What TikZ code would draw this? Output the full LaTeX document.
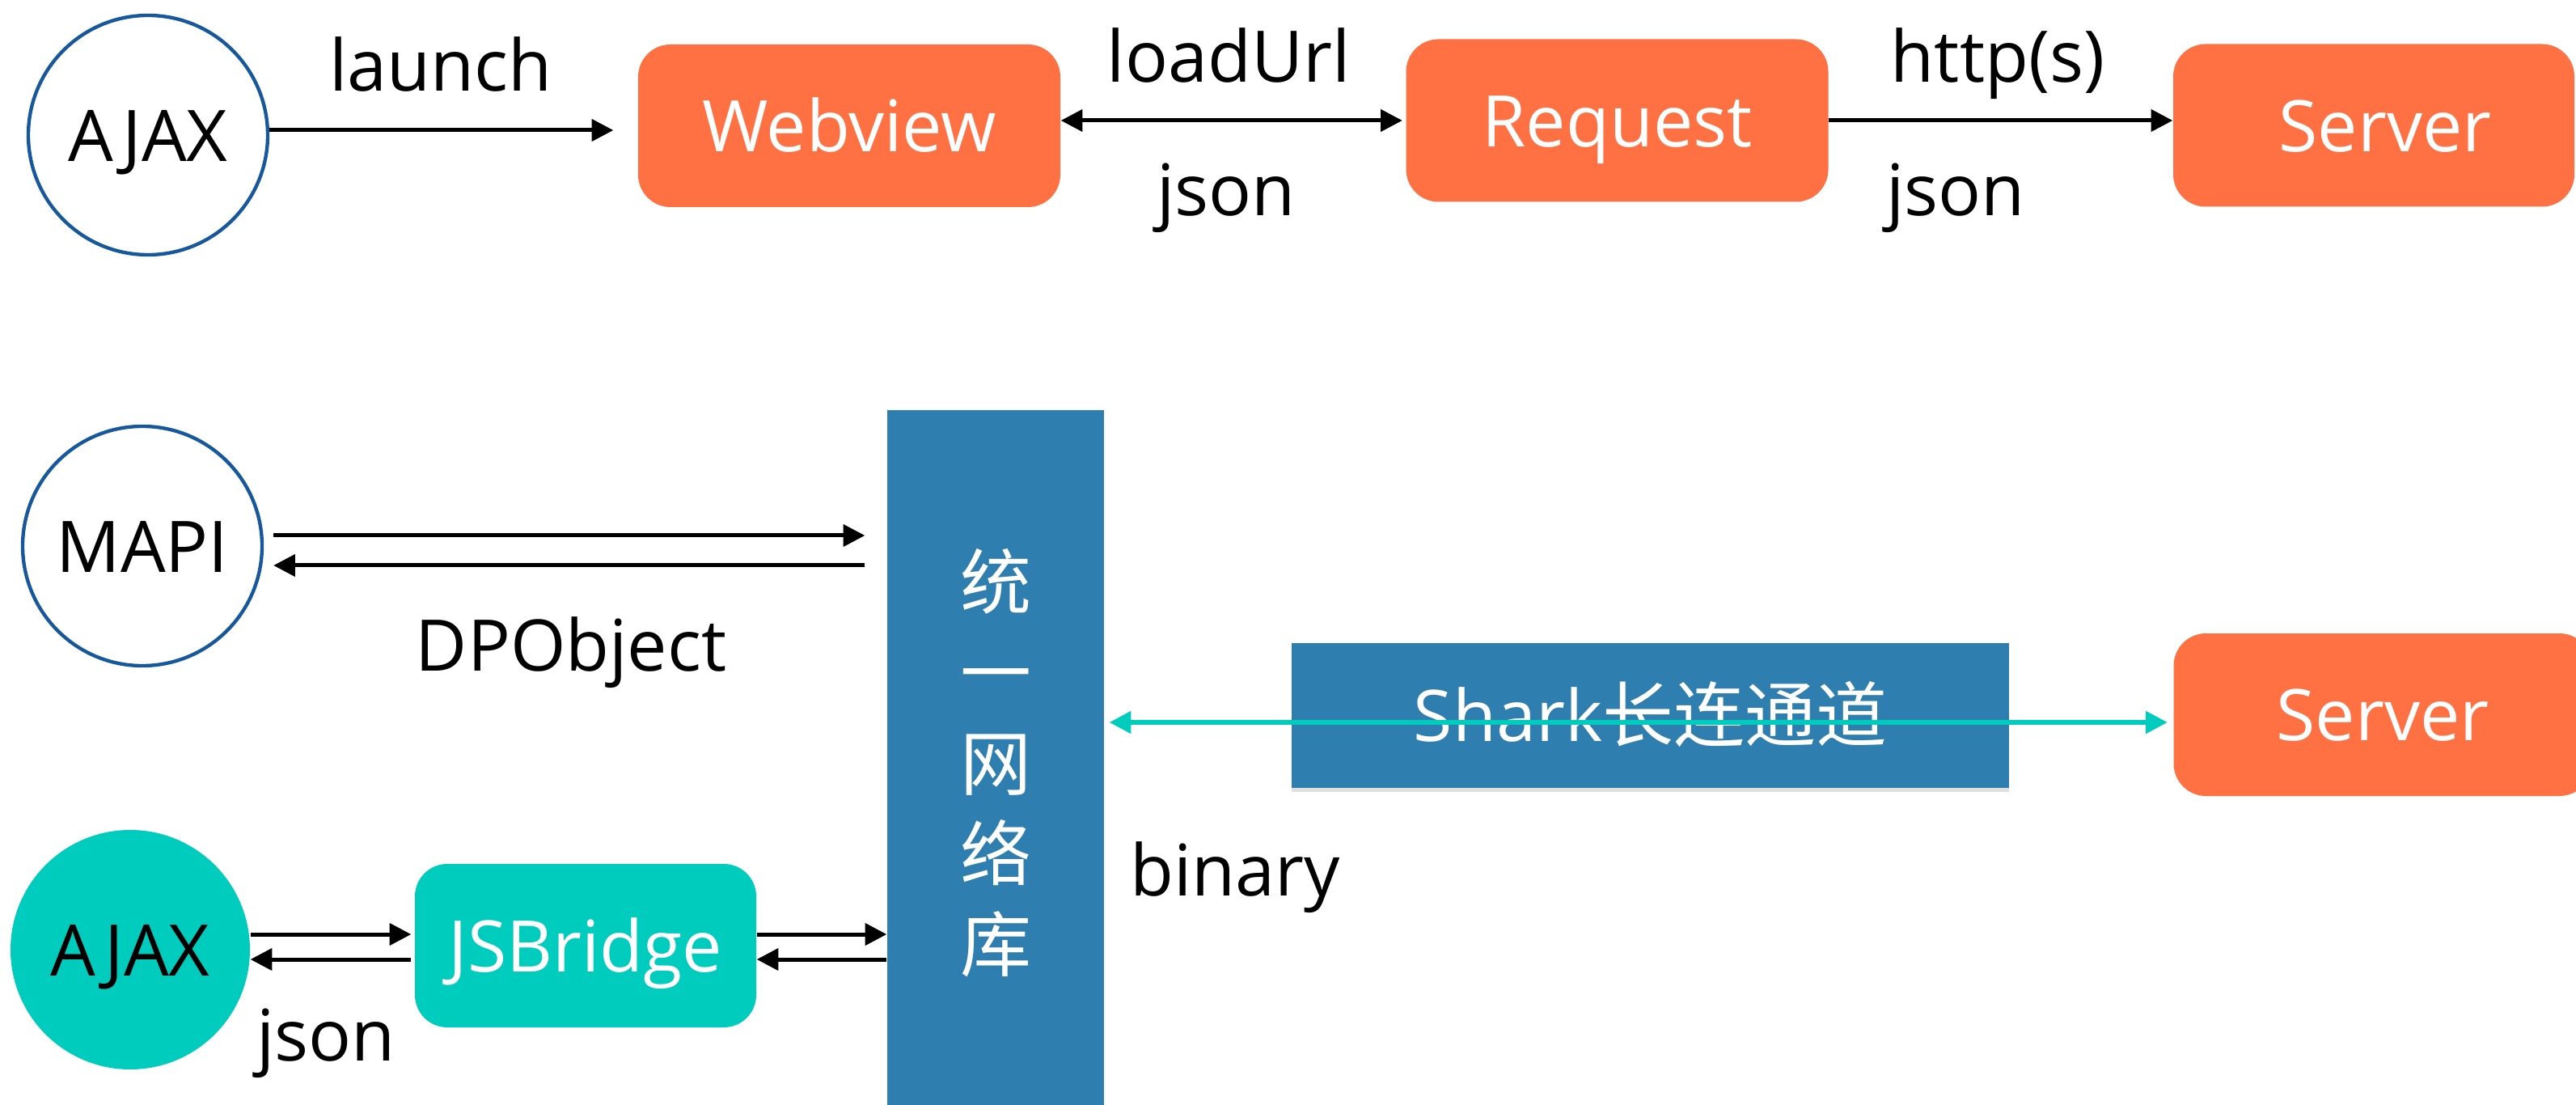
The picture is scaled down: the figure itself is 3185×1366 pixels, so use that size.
\documentclass[tikz,border=0pt]{standalone}
\usepackage{fontspec}
\setmainfont{Open Sans}
\newfontfamily\cjk{Noto Sans CJK SC}
\usetikzlibrary{arrows.meta,shadows,calc}
\definecolor{orng}{RGB}{255,113,66}
\definecolor{tealc}{RGB}{0,204,190}
\definecolor{barblue}{RGB}{47,126,176}
\definecolor{ringblue}{RGB}{22,88,155}
\begin{document}
\begin{tikzpicture}[x=0.3pt,y=-0.3pt,
  txt/.style={font=\fontsize{26.4}{30}\selectfont, inner sep=0pt},
  cen/.style={text height=19.4pt, text depth=0pt},
  obox/.style={txt, cen, fill=orng, rounded corners=12pt, text=white, minimum width=156.6pt, minimum height=60.3pt},
  ring/.style={txt, cen, circle, draw=ringblue, line width=1.3pt, minimum size=88.8pt},
  tcircle/.style={txt, cen, circle, fill=tealc, minimum size=88.8pt},
  tbox/.style={txt, cen, fill=tealc, rounded corners=12pt, text=white, minimum width=126.6pt, minimum height=60.6pt},
  bbox/.style={txt, fill=barblue, text=white, drop shadow={shadow xshift=0pt, shadow yshift=-1.5pt, opacity=0.25}},
  lbl/.style={txt, anchor=base},
  arr/.style={line width=1.5pt, -{Triangle[length=8pt,width=8pt]}},
  darr/.style={line width=1.5pt, {Triangle[length=8pt,width=8pt]}-{Triangle[length=8pt,width=8pt]}},
  tarr/.style={line width=1.7pt, tealc, {Triangle[length=8pt,width=8pt]}-{Triangle[length=8pt,width=8pt]}}
]
\useasboundingbox (0,0) rectangle (3185,1366);
\fill[white] (0,0) rectangle (3185,1366);

% ---- top row ----
\node[ring] (ajax1) at (183,167) {AJAX};
\node[obox] (webview) at (1050,155.5) {Webview};
\node[obox] (request) at (1999.5,149) {Request};
\node[obox, minimum width=148.8pt, text width=148.8pt, align=center] (server1) at (2935,155) {\hspace*{8.4pt}Server};

\draw[arr, shorten >=9pt] ([yshift=1.8pt]ajax1.east) -- ([yshift=1.8pt]ajax1.east -| webview.west);
\draw[darr, shorten >=1.2pt] (webview.east |- request.west) -- (request.west);
\draw[arr] (request.east) -- (request.east -| server1.west);

\node[lbl] (l1) at (545,113) {launch};
\node[lbl] (l2) at (1519,102) {loadUrl};
\node[lbl] (l3) at (1516,267) {json};
\node[lbl] (l4) at (2470,102) {http(s)};
\node[lbl] (l5) at (2418,267) {json};

% ---- bottom part ----
\node[bbox, minimum width=80.4pt, minimum height=261.9pt, align=center,
      font=\fontsize{26.4}{33.6}\selectfont\cjk] (bar) at (1231,943.5) {统\\一\\网\\络\\库};
\node[ring] (mapi) at (176,675) {MAPI};
\node[tcircle] (ajax2) at (161,1174) {AJAX};
\node[tbox] (jsb) at (724,1169) {JSBridge};
\node[bbox, cen, minimum width=266.1pt, minimum height=53.7pt] (shark) at (2040.5,884.5) {Shark{\cjk 长连通道}};
\node[obox, minimum width=155.1pt] (server2) at (2946,883.5) {Server};

\draw[arr, shorten <=3.6pt, shorten >=8.1pt] ([yshift=3.9pt]mapi.east) -- ([yshift=3.9pt]mapi.east -| bar.west);
\draw[arr, shorten >=3.6pt, shorten <=8.1pt] ([yshift=-7.2pt]mapi.east -| bar.west) -- ([yshift=-7.2pt]mapi.east);

\draw[arr, shorten >=1.2pt] ([yshift=5.7pt]ajax2.east) -- ([yshift=5.7pt]ajax2.east -| jsb.west);
\draw[arr, shorten <=1.2pt] ([yshift=-3.6pt]ajax2.east -| jsb.west) -- ([yshift=-3.6pt]ajax2.east);
\draw[arr] ([yshift=4.2pt]jsb.east) -- ([yshift=4.2pt]jsb.east -| bar.west);
\draw[arr] ([yshift=-5.1pt]jsb.east -| bar.west) -- ([yshift=-5.1pt]jsb.east);

\coordinate (tl) at ([yshift=-2.85pt]server2.west -| bar.east);
\coordinate (tr) at ([yshift=-2.85pt]server2.west);
\draw[tarr, shorten <=1.8pt, shorten >=2.1pt] (tl) -- (tr);

\node[lbl] (l6) at (706,830) {DPObject};
\node[lbl] (l7) at (403,1311) {json};
\node[lbl] (l8) at (1527,1107) {binary};
\end{tikzpicture}
\end{document}
